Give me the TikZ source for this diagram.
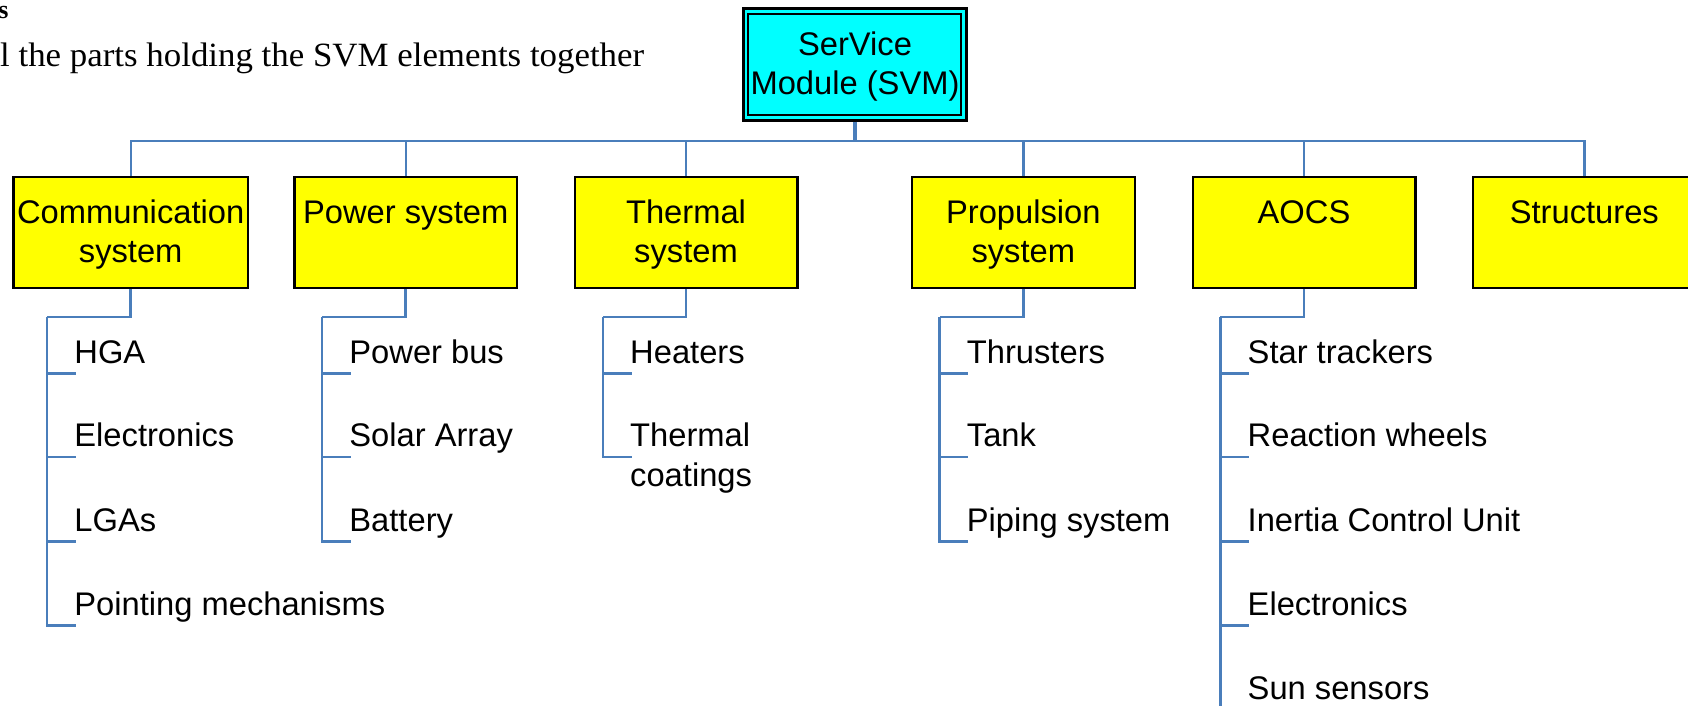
\documentclass[tikz,border=0pt]{standalone}
\usepackage{fontspec}
\usepackage{graphicx}
\setmainfont{Liberation Sans}
\newfontfamily\docserif{Liberation Serif}
\usetikzlibrary{calc}

\definecolor{linkblue}{HTML}{4A7EBB}
\definecolor{boxyellow}{HTML}{FFFF00}
\definecolor{svmcyan}{HTML}{00FFFF}

% box caption: width, height, depth of first baseline below the top, text
\newcommand{\boxlabel}[4]{\parbox[c][#2][t]{#1}{\centering\rule{0pt}{#3}#4}}
% two-line label whose baseline is that of its first line
\newcommand{\twolines}[2]{\vtop{\hbox{#1}\hbox{#2}}}

\begin{document}
\begin{tikzpicture}[x=1pt,y=-1pt,
  font=\fontsize{32.7pt}{39.3pt}\selectfont,
  topbox/.style={draw=black, line width=3pt, fill=svmcyan, inner sep=0pt, anchor=north},
  subsys/.style={draw=black, line width=2.3pt, fill=boxyellow, inner sep=0pt, anchor=north,
                 minimum height=110.7pt},
  item/.style={anchor=base west, inner sep=0pt},
  mainlink/.style={draw=linkblue, line width=3.2pt},
  buslink/.style={draw=linkblue, line width=2.4pt},
  elbow/.style={draw=linkblue, line width=2.5pt},
  doctext/.style={inner sep=0pt, text=black}]

\useasboundingbox (0,0) rectangle (1688,705);
\clip (0,0) rectangle (1688,705);

% fragment of the surrounding document text
\node[doctext, anchor=base east, font=\docserif\bfseries\fontsize{26pt}{30pt}\selectfont]
  (headtail) at (8.8,18.5) {s};
\node[doctext, anchor=base west, font=\docserif\fontsize{34pt}{40pt}\selectfont]
  (bodyline) at (0,66.5) {\resizebox{644pt}{\height}{l the parts holding the SVM elements together}};

% root box with a double frame
\node[topbox, minimum width=222.7pt, minimum height=111.3pt] (svm) at (855,7.3)
  {\boxlabel{222.7pt}{111.3pt}{46.8pt}{SerVice\\Module (SVM)}};
\draw[line width=2pt] ($(svm.north west)+(6.3,7)$) rectangle ($(svm.south east)+(-6.8,-7)$);

% subsystem boxes
\node[subsys, minimum width=234.7pt] (comm) at (130.7,176)
  {\boxlabel{234.7pt}{110.7pt}{46pt}{Communication\\system}};
\node[subsys, minimum width=222.7pt] (power) at (405.7,176)
  {\boxlabel{222.7pt}{110.7pt}{46pt}{Power system}};
\node[subsys, minimum width=222.7pt] (thermal) at (686,176)
  {\boxlabel{222.7pt}{110.7pt}{46pt}{Thermal\\system}};
\node[subsys, minimum width=222.7pt] (prop) at (1023.3,176)
  {\boxlabel{222.7pt}{110.7pt}{46pt}{Propulsion\\system}};
\node[subsys, minimum width=222.7pt] (aocs) at (1304,176)
  {\boxlabel{222.7pt}{110.7pt}{46pt}{AOCS}};
\node[subsys, minimum width=222.7pt] (struct) at (1584.3,176)
  {\boxlabel{222.7pt}{110.7pt}{46pt}{Structures}};

% bus from the root to the subsystems
\coordinate (bus) at (855,141);
\draw[mainlink] (svm.south) -- (bus);
\foreach \s in {comm,power,thermal,prop,aocs,struct}
  \draw[buslink] (bus) -| (\s.north);

% rails of the component lists
\coordinate (commrail) at (47,317);
\coordinate (powerrail) at (322,317);
\coordinate (thermrail) at (602.8,317);
\coordinate (proprail) at (939.5,317);
\coordinate (aocsrail) at (1220.3,317);

\draw[elbow] (comm.south) |- (commrail);
\draw[elbow] (power.south) |- (powerrail);
\draw[elbow] (thermal.south) |- (thermrail);
\draw[elbow] (prop.south) |- (proprail);
\draw[elbow] (aocs.south) |- (aocsrail);

% tick ends
\coordinate (t11) at (75.7,373.5);
\coordinate (t12) at (75.7,457.2);
\coordinate (t13) at (75.7,541.3);
\coordinate (t14) at (75.7,625.3);
\coordinate (t21) at (350.7,373.5);
\coordinate (t22) at (350.7,457.2);
\coordinate (t23) at (350.7,541.3);
\coordinate (t31) at (631.5,373.5);
\coordinate (t32) at (631.5,457.2);
\coordinate (t41) at (968.2,373.5);
\coordinate (t42) at (968.2,457.2);
\coordinate (t43) at (968.2,541.3);
\coordinate (t51) at (1249,373.5);
\coordinate (t52) at (1249,457.2);
\coordinate (t53) at (1249,541.3);
\coordinate (t54) at (1249,625.3);
\coordinate (t55) at (1249,709.5);

% component labels
\node[item] (hga)      at ($(t11)+(-1.5,-10.3)$) {HGA};
\node[item] (commel)   at ($(t12)+(-1.5,-10.3)$) {Electronics};
\node[item] (lgas)     at ($(t13)+(-1.5,-10.3)$) {LGAs};
\node[item] (pointing) at ($(t14)+(-1.5,-10.3)$) {Pointing mechanisms};
\node[item] (pbus)     at ($(t21)+(-1.5,-10.3)$) {Power bus};
\node[item] (solar)    at ($(t22)+(-1.5,-10.3)$) {Solar Array};
\node[item] (battery)  at ($(t23)+(-1.5,-10.3)$) {Battery};
\node[item] (heaters)  at ($(t31)+(-1.5,-10.3)$) {Heaters};
\node[item] (coatings) at ($(t32)+(-1.5,-10.3)$) {\twolines{Thermal}{coatings}};
\node[item] (thrust)   at ($(t41)+(-1.5,-10.3)$) {Thrusters};
\node[item] (tank)     at ($(t42)+(-1.5,-10.3)$) {Tank};
\node[item] (piping)   at ($(t43)+(-1.5,-10.3)$) {Piping system};
\node[item] (star)     at ($(t51)+(-1.5,-10.3)$) {Star trackers};
\node[item] (wheels)   at ($(t52)+(-1.5,-10.3)$) {Reaction wheels};
\node[item] (icu)      at ($(t53)+(-1.5,-10.3)$) {Inertia Control Unit};
\node[item] (aocsel)   at ($(t54)+(-1.5,-10.3)$) {Electronics};
\node[item] (sun)      at ($(t55)+(-1.5,-10.3)$) {Sun sensors};

% ticks
\foreach \t in {t11,t12,t13,t14} \draw[elbow] (commrail) |- (\t);
\foreach \t in {t21,t22,t23} \draw[elbow] (powerrail) |- (\t);
\foreach \t in {t31,t32} \draw[elbow] (thermrail) |- (\t);
\foreach \t in {t41,t42,t43} \draw[elbow] (proprail) |- (\t);
\foreach \t in {t51,t52,t53,t54,t55} \draw[elbow] (aocsrail) |- (\t);

\end{tikzpicture}
\end{document}
